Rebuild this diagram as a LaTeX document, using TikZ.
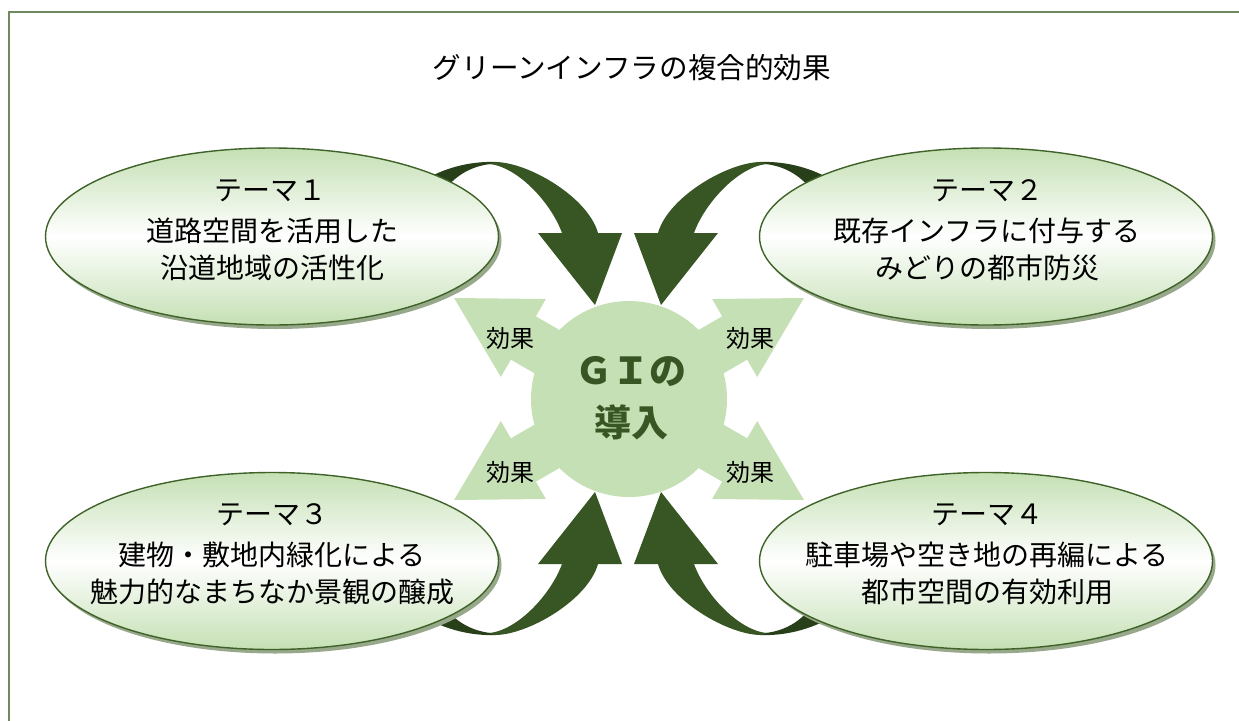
\documentclass[tikz,border=0pt]{standalone}
\usepackage{fontspec}
\setmainfont{Noto Sans CJK JP}
\usetikzlibrary{shapes.geometric,shadows}
\definecolor{lg}{RGB}{197,224,180}
\definecolor{dg}{RGB}{55,86,35}
\definecolor{dgback}{RGB}{40,64,25}
\definecolor{eline}{RGB}{62,98,40}
\definecolor{shcol}{RGB}{152,168,138}
\definecolor{framec}{RGB}{111,138,96}
\tikzset{
  theme/.style={ellipse, draw=eline, line width=1.4pt,
    top color=lg, bottom color=lg, middle color=white,
    minimum width=453pt, minimum height=177pt, inner sep=0pt,
    drop shadow={shadow xshift=3pt, shadow yshift=-4pt, fill=shcol, opacity=1}},
  ttl/.style={anchor=base, inner sep=0pt, font=\fontsize{28}{33}\selectfont},
  fx/.style={anchor=base, inner sep=0pt, font=\fontsize{24}{28}\selectfont},
  gitxt/.style={anchor=base, inner sep=0pt, text=dg, font=\fontsize{37}{42}\selectfont\bfseries},
  hub/.style={circle, fill=lg, minimum size=196pt, inner sep=0pt},
  effectarrow/.pic={
    \fill[lg] (0,-25) -- (122,-25) -- (122,-45) -- (202,0) -- (122,45) -- (122,25) -- (0,25) -- cycle;
  },
  bigarrow/.pic={
    \fill[dgback] (491,164) .. controls (470,166) and (450,178) .. (440,198) -- (415,186)
      .. controls (440,168) and (470,161) .. (496,162) -- cycle;
    \fill[dg] (595,305) -- (538,233) -- (562,233) .. controls (552,205) and (520,168) .. (490,164)
      -- (495,162) .. controls (528,162) and (588,197) .. (598,233) -- (622,233) -- cycle;
  }
}
\begin{document}
\begin{tikzpicture}[x=1pt,y=-1pt]
\useasboundingbox (0,0) rectangle (1239,720);
\fill[white] (0,0) rectangle (1239,720);
\draw[framec, line width=2.5pt] (9,722) -- (9,12) -- (1241,12);

\node[anchor=base, inner sep=0pt, font=\fontsize{28.6}{33}\selectfont] (title) at (632,78.8) {グリーンインフラの複合的効果};

% effect arrows and hub
\pic[rotate=150] at (629,399) {effectarrow};
\pic[rotate=30] at (629,399) {effectarrow};
\pic[rotate=210] at (629,399) {effectarrow};
\pic[rotate=330] at (629,399) {effectarrow};
\node[hub] (hub) at (629,399) {};
\node[gitxt] (gi1) at (631,384.7) {ＧＩの};
\node[gitxt] (gi2) at (631,436.7) {導入};
\node[fx] (fx1) at (510,347.1) {効果};
\node[fx] (fx2) at (750,347.1) {効果};
\node[fx] (fx3) at (510,481.1) {効果};
\node[fx] (fx4) at (750,481.1) {効果};

% curved arrows
\pic at (0,0) {bigarrow};
\pic[xscale=-1] at (1256,0) {bigarrow};
\pic[yscale=-1] at (0,797) {bigarrow};
\pic[xscale=-1,yscale=-1] at (1256,797) {bigarrow};

% themes
\node[theme] (e1) at (272,236.5) {};
\node[theme] (e2) at (986,236.5) {};
\node[theme] (e3) at (272,561) {};
\node[theme] (e4) at (986,561) {};

\node[ttl] (t1a) at (270,200.1) {テーマ１};
\node[ttl] (t1b) at (272,241.1) {道路空間を活用した};
\node[ttl] (t1c) at (272,278.1) {沿道地域の活性化};

\node[ttl] (t2a) at (987,200.1) {テーマ２};
\node[ttl] (t2b) at (987,241.1) {既存インフラに付与する};
\node[ttl] (t2c) at (987,278.1) {みどりの都市防災};

\node[ttl] (t3a) at (272,524.6) {テーマ３};
\node[ttl] (t3b) at (272,565.6) {建物・敷地内緑化による};
\node[ttl] (t3c) at (272,602.6) {魅力的なまちなか景観の醸成};

\node[ttl] (t4a) at (987,524.6) {テーマ４};
\node[ttl] (t4b) at (987,565.6) {駐車場や空き地の再編による};
\node[ttl] (t4c) at (987,602.6) {都市空間の有効利用};
\end{tikzpicture}
\end{document}
